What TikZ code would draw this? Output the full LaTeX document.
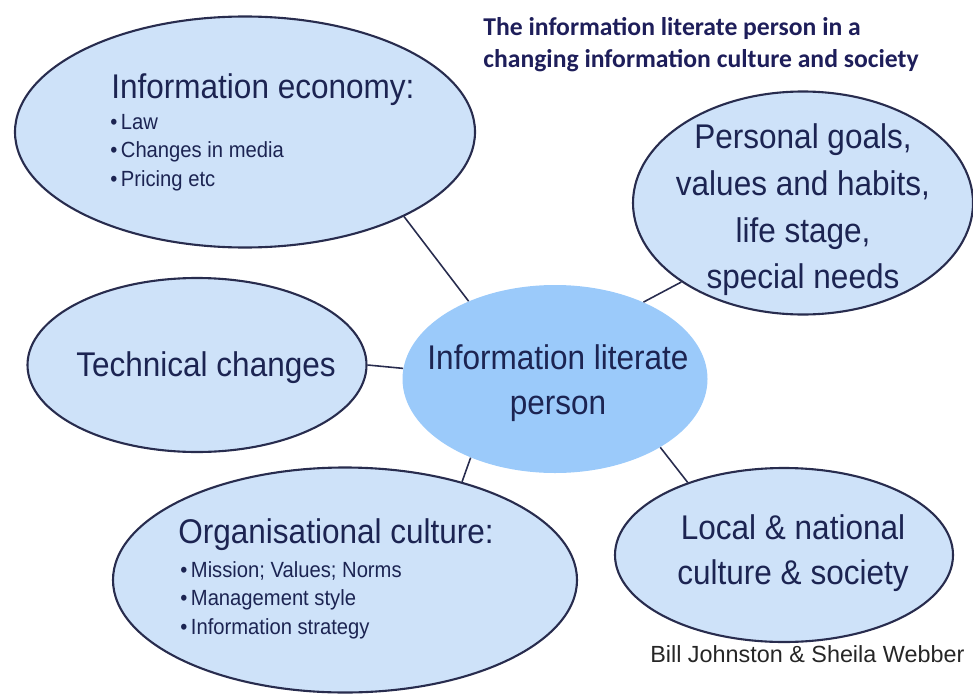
\documentclass[tikz,border=0pt]{standalone}
\usepackage{fontspec}
\setmainfont{Liberation Sans}
\newfontfamily\bubblefont[FakeStretch=0.92]{Liberation Sans}
\newfontfamily\titlefont{Carlito}
\usepackage{tikz}
\usetikzlibrary{shapes.geometric}

\definecolor{bubblefill}{RGB}{206,226,249}
\definecolor{hubfill}{RGB}{155,202,250}
\definecolor{rimcol}{RGB}{40,44,78}
\definecolor{inkcol}{RGB}{28,36,82}
\definecolor{titlecol}{RGB}{30,30,90}

\begin{document}
\begin{tikzpicture}[
    bubble/.style={draw=rimcol, line width=1.2pt, fill=bubblefill, ellipse, inner sep=0pt},
    hub/.style={fill=hubfill, ellipse, inner sep=0pt},
    big/.style={font=\bubblefont\fontsize{19.5}{25.5}\selectfont, text=inkcol, align=center, inner sep=0pt},
    head/.style={font=\bubblefont\fontsize{19.5}{25.5}\selectfont, text=inkcol, inner sep=0pt, anchor=base west},
    items/.style={font=\bubblefont\fontsize{12.5}{16.2}\selectfont, text=inkcol, align=left, inner sep=0pt, anchor=north west},
    link/.style={draw=rimcol, line width=0.9pt}
]
\useasboundingbox (0,0) rectangle (19.46,13.9);

% --- bubbles round the person ---
\node[bubble, minimum width=9.20cm, minimum height=4.62cm] (econ) at (4.90,11.26) {};
\node[bubble, minimum width=6.80cm, minimum height=4.46cm] (goals) at (16.06,9.84) {};
\node[bubble, minimum width=6.78cm, minimum height=3.48cm] (tech) at (3.94,6.60) {};
\node[bubble, minimum width=9.28cm, minimum height=4.50cm] (org) at (6.90,2.30) {};
\node[bubble, minimum width=6.76cm, minimum height=3.48cm] (local) at (15.68,2.80) {};
\node[hub, minimum width=6.10cm, minimum height=3.76cm] (centre) at (11.10,6.32) {};

% --- texts ---
\node[head] (econhead) at (2.22,11.94) {Information economy:};
\node[items] (econlist) at (2.20,11.62) {\textbullet\hspace{2pt}Law\\\textbullet\hspace{2pt}Changes in media\\\textbullet\hspace{2pt}Pricing etc};
\node[big, font=\bubblefont\fontsize{19.5}{26.6}\selectfont] (goalstxt) at (16.06,9.70) {Personal goals,\\values and habits,\\life stage,\\special needs};
\node[big] (techtxt) at (4.12,6.54) {Technical changes};
\node[big] (centretxt) at (11.16,6.23) {Information literate\\person};
\node[head] (orghead) at (3.56,3.04) {Organisational culture:};
\node[items] (orglist) at (3.60,2.68) {\textbullet\hspace{2pt}Mission; Values; Norms\\\textbullet\hspace{2pt}Management style\\\textbullet\hspace{2pt}Information strategy};
\node[big] (localtxt) at (15.86,2.84) {Local \& national\\culture \& society};

% --- links to the centre ---
\draw[link] (econ.-28) -- (centre.138);
\draw[link] (goals.213.5) -- (centre.41.6);
\draw[link] (tech.east) -- (centre.176);
\draw[link] (org.40) -- (centre.223.6);
\draw[link] (local.143.6) -- (centre.-33.6);

\node[font=\titlefont\bfseries\fontsize{14.6}{18.4}\selectfont, text=titlecol, align=left, anchor=north west, inner sep=0pt] (title) at (9.66,13.56) {The information literate person in a\\changing information culture and society};
\node[font=\fontsize{13.3}{16}\selectfont, text=black!85, anchor=base west, inner sep=0pt] (credit) at (13.00,0.66) {Bill Johnston \& Sheila Webber};

\end{tikzpicture}
\end{document}
